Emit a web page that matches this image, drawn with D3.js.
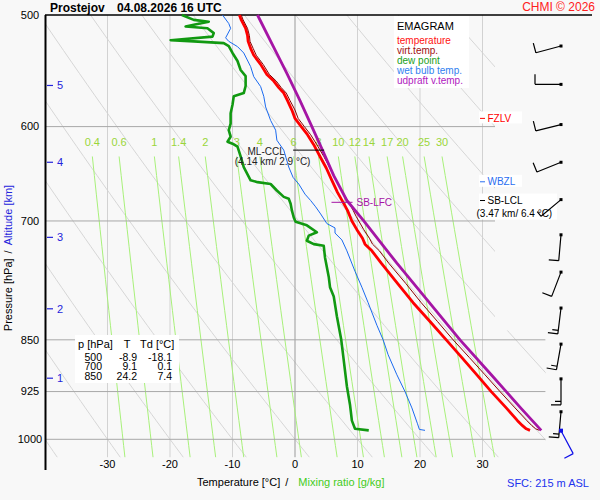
<!DOCTYPE html>
<html>
<head>
<meta charset="utf-8">
<title>Emagram Prostejov</title>
<script src="https://cdn.jsdelivr.net/npm/d3@7"></script>
<style>
  body { margin: 0; background: #f8f8f8; }
  svg { display: block; font-family: "Liberation Sans", Arial, sans-serif; }
</style>
</head>
<body>
<svg width="600" height="500"></svg>
<script>
// Emagram Prostejov 04.08.2026 16 UTC, drawn with d3

// grid
var pLevels = [500, 600, 700, 850, 925, 1000];
var tTicks = [-30, -20, -10, 0, 10, 20, 30];
var mixRatios = [0.4, 0.6, 1, 1.4, 2, 3, 4, 6, 8, 10, 12, 14, 17, 20, 25, 30];
var dryT1000 = [-40, -30, -20, -10, 0, 10, 20, 30, 40, 50, 60, 70, 80, 90, 100, 110, 120];

// altitude marks [km] and pressure [hPa]
var altKm = [1, 2, 3, 4, 5];
var altP = [905, 808, 719, 636, 561];

// profiles: [p hPa, T °C]
var temperature = [
  [500, -8.9], [504, -8.6], [511, -7.9], [517, -7.6], [522, -7.5], [528, -7.1], [534, -6.6],
  [542, -5.5], [551, -4.5], [557, -3.4], [563, -2.6], [568, -1.8], [575, -1.2], [584, -0.5],
  [592, 0.0], [600, 1.0], [608, 2.0], [618, 3.0], [630, 4.0], [642, 5.0], [655, 5.9],
  [668, 6.8], [679, 7.7], [688, 8.4], [695, 8.8], [700, 9.1], [710, 9.9], [720, 10.8],
  [727, 11.2], [735, 12.3], [750, 13.8], [775, 16.4], [800, 18.9], [825, 21.6], [850, 24.2],
  [875, 26.7], [900, 29.1], [925, 31.4], [950, 33.8], [970, 35.6], [978, 36.4], [983, 37.0],
  [985.5, 37.6]
];
var virtTemp = [
  [500, -8.6], [504, -8.3], [511, -7.6], [517, -7.3], [522, -7.2], [528, -6.7], [534, -6.2],
  [542, -5.1], [551, -4.1], [557, -3.0], [563, -2.2], [568, -1.4], [575, -0.8], [584, 0.0],
  [592, 0.5], [600, 1.5], [608, 2.5], [618, 3.5], [630, 4.6], [642, 5.6], [655, 6.6],
  [668, 7.6], [679, 8.6], [688, 9.3], [695, 9.8], [700, 10.2], [710, 11.0], [720, 11.9],
  [727, 12.4], [735, 13.5], [750, 15.0], [775, 17.7], [800, 20.2], [825, 22.8], [850, 25.3],
  [875, 27.9], [900, 30.4], [925, 32.8], [950, 35.2], [970, 37.1], [978, 37.9], [983, 38.5],
  [985.5, 39.1]
];
var dewPoint = [
  [500, -18.1], [504, -16.2], [505.5, -13.8], [508, -16.2], [509.5, -17.5], [511, -14.0],
  [515, -13.0], [518, -13.2], [521, -19.9], [522, -16.2], [523.5, -11.4], [526, -10.6],
  [532, -10.0], [539, -9.2], [547, -8.7], [552.5, -7.9], [561.5, -7.9], [568, -8.2],
  [571, -9.8], [579, -10.0], [587, -10.3], [597, -10.3], [603.5, -10.6], [610, -10.3],
  [615, -10.8], [617, -10.0], [620, -9.2], [630, -8.7], [641, -8.2], [655, -7.1],
  [657, -6.0], [659, -3.9], [666, -2.9], [673, -1.8], [675, -1.0], [680.5, -0.7],
  [688, -0.5], [696, -0.2], [701, 0.1], [705, 1.9], [713, 3.5], [717, 2.2], [723, 1.9],
  [727, 3.0], [729, 4.6], [743, 4.8], [767, 5.4], [780, 5.6], [792, 6.2], [818, 6.7],
  [850, 7.4], [879, 7.8], [917, 8.3], [945, 8.8], [970, 9.1], [983, 9.6], [985.5, 11.8]
];
var wetBulb = [
  [500, -11.6], [507, -10.6], [511, -10.3], [519, -11.1], [522, -10.6], [526.5, -9.2],
  [532, -8.2], [544, -7.1], [553, -6.6], [562, -5.5], [571, -5.0], [581, -4.7], [594, -3.9],
  [603.5, -3.1], [613.5, -2.9], [623.5, -1.8], [641, -1.0], [652, -0.3], [659, 0.6],
  [670, 1.6], [677, 2.5], [684, 3.3], [692, 4.1], [703, 5.1], [708, 6.4], [714, 6.4],
  [722, 7.5], [735, 8.3], [760, 9.6], [780, 10.7], [800, 11.7], [830, 13.1], [850, 14.1],
  [871, 14.9], [900, 16.3], [925, 17.6], [950, 18.7], [975, 19.6], [984, 19.9], [985.5, 20.8]
];
var updraft = [
  [500, -6.0], [525, -3.6], [550, -1.3], [575, 0.8], [600, 2.7], [625, 4.5], [650, 6.2],
  [677, 8.3], [700, 11.0], [750, 16.3], [800, 21.5], [850, 26.4], [900, 31.4], [925, 33.8],
  [950, 36.1], [985.5, 39.4]
];

// winds: pressure [hPa], direction [deg], speed [kt]
var windP = [526, 560, 598, 636, 676, 716, 761, 807, 856, 906, 956];
var windDir = [255, 270, 256, 248, 230, 185, 201, 187, 190, 180, 185];
var windKt = [10, 10, 10, 10, 5, 10, 10, 15, 15, 15, 15];
var sfcWind = [986, 152, 10];

// table
var tableHead = ["p [hPa]", "T", "Td [°C]"];
var tableRows = [["500", "-8.9", "-18.1"], ["700", "9.1", "0.1"], ["850", "24.2", "7.4"]];

var legendNames = ["temperature", "virt.temp.", "dew point", "wet bulb temp.", "udpraft v.temp."];
var legendColors = ["#ff1010", "#a01010", "#20a020", "#3080f0", "#b020c0"];

var svg = d3.select("svg");
var x = d3.scaleLinear().domain([-40, 40]).range([45, 545]);
var y = d3.scaleLog().domain([500, 1000]).range([15, 439.3]);
var pBottom = 1030;
var barbX = 561;

svg.append("rect").attr("width", 600).attr("height", 500).attr("fill", "#f8f8f8");

svg.append("defs").append("clipPath").attr("id", "gridclip").append("polygon")
  .attr("points", [[x(-40), y(500)], [x(32), y(500)], [x(32), y(837)], [x(40.1), y(837)],
    [x(40.1), y(pBottom)], [x(-40), y(pBottom)]].join(" "));

var grid = svg.append("g").attr("clip-path", "url(#gridclip)");

var line = d3.line().x(function(d) { return x(d[1]); }).y(function(d) { return y(d[0]); });
var pSteps = d3.range(500, pBottom + 1, 10);

// dry adiabats
grid.selectAll(".dry").data(dryT1000).enter().append("path")
  .attr("class", "dry")
  .attr("d", function(t0) {
    var th = t0 + 273.15;
    return line(pSteps.map(function(p) { return [p, th * Math.pow(p / 1000, 0.286) - 273.15]; }));
  })
  .attr("fill", "none").attr("stroke", "#d6d6d6").attr("stroke-width", 1);

// isotherms
grid.selectAll(".iso").data(tTicks).enter().append("line")
  .attr("x1", function(d) { return x(d); }).attr("x2", function(d) { return x(d); })
  .attr("y1", y(500)).attr("y2", y(pBottom))
  .attr("stroke", function(d) { return d === 0 ? "#9a9a9a" : "#d2d2d2"; })
  .attr("stroke-width", 1);

// mixing ratio lines
function satT(w, p) {
  var e = w * p / (622 + w);
  var l = Math.log(e / 6.112);
  return 243.5 * l / (17.67 - l);
}
var mixP = d3.range(630, pBottom + 1, 20);
grid.selectAll(".mix").data(mixRatios).enter().append("path")
  .attr("d", function(w) { return line(mixP.map(function(p) { return [p, satT(w, p)]; })); })
  .attr("fill", "none").attr("stroke", "#a8f07a").attr("stroke-width", 1);

svg.selectAll(".mixlab").data(mixRatios).enter().append("text")
  .attr("x", function(w) { return x(satT(w, 630)); })
  .attr("y", y(630) - 10)
  .attr("text-anchor", "middle")
  .style("font-size", "11px").attr("fill", "#9ad63a")
  .text(function(w) { return w; });

// pressure lines
grid.selectAll(".plev").data(pLevels.slice(1)).enter().append("line")
  .attr("x1", x(-40)).attr("x2", x(40.1))
  .attr("y1", function(d) { return y(d); }).attr("y2", function(d) { return y(d); })
  .attr("stroke", "#a8a8a8").attr("stroke-width", 1);

// frame
svg.append("line").attr("x1", x(-40)).attr("x2", 592).attr("y1", y(500)).attr("y2", y(500))
  .attr("stroke", "#000").attr("stroke-width", 1.5);
svg.append("line").attr("x1", x(-40) + 0.5).attr("x2", x(-40) + 0.5).attr("y1", y(500)).attr("y2", 470)
  .attr("stroke", "#000").attr("stroke-width", 2);

// pressure labels
svg.selectAll(".plab").data(pLevels).enter().append("text")
  .attr("x", 30).attr("y", function(d) { return y(d); }).attr("dy", "0.35em")
  .attr("text-anchor", "middle").style("font-size", "11px").attr("fill", "#000")
  .text(function(d) { return d; });

// temperature labels
svg.selectAll(".tlab").data(tTicks).enter().append("text")
  .attr("x", function(d) { return x(d); }).attr("y", 468)
  .attr("text-anchor", "middle").style("font-size", "11px").attr("fill", "#000")
  .text(function(d) { return d; });

// altitude marks
var alt = svg.append("g");
altP.forEach(function(p, i) {
  alt.append("line").attr("x1", 47).attr("x2", 53).attr("y1", y(p)).attr("y2", y(p))
    .attr("stroke", "#2424dc").attr("stroke-width", 1.2);
  alt.append("text").attr("x", 57).attr("y", y(p)).attr("dy", "0.35em")
    .style("font-size", "11px").attr("fill", "#2424dc").text(altKm[i]);
});

// axis titles
var yt = svg.append("text").attr("transform", "translate(12,258) rotate(-90)")
  .attr("text-anchor", "middle").style("font-size", "11px");
yt.append("tspan").attr("fill", "#000").text("Pressure [hPa]");
yt.append("tspan").attr("fill", "#000").attr("dx", 5).text("/");
yt.append("tspan").attr("fill", "#2424dc").attr("dx", 5).text("Altitude [km]");

var xt = svg.append("text").attr("x", 197).attr("y", 486).style("font-size", "11px");
xt.append("tspan").attr("fill", "#000").text("Temperature [°C]");
xt.append("tspan").attr("fill", "#000").attr("dx", 5).text("/");
xt.append("tspan").attr("fill", "#44cc22").attr("dx", 10).text("Mixing ratio [g/kg]");

svg.append("text").attr("x", 589).attr("y", 487).attr("text-anchor", "end")
  .style("font-size", "11px").attr("fill", "#2233ee").text("SFC: 215 m ASL");

// title
svg.append("text").attr("x", 50).attr("y", 12).style("font-size", "12px").style("font-weight", "bold")
  .text("Prostejov");
svg.append("text").attr("x", 117).attr("y", 12).style("font-size", "12px").style("font-weight", "bold")
  .text("04.08.2026 16 UTC");
svg.append("text").attr("x", 595).attr("y", 11).attr("text-anchor", "end")
  .style("font-size", "12px").attr("fill", "#ff2020").text("CHMI © 2026");

// legend
var leg = svg.append("g");
leg.append("rect").attr("x", 394).attr("y", 16).attr("width", 75).attr("height", 72).attr("fill", "#fff");
leg.append("text").attr("x", 397).attr("y", 30).style("font-size", "11px").text("EMAGRAM");
legendNames.forEach(function(n, i) {
  leg.append("text").attr("x", 397).attr("y", 44 + i * 10).style("font-size", "10px")
    .attr("fill", legendColors[i]).text(n);
});

// table
var tab = svg.append("g");
tab.append("rect").attr("x", 75).attr("y", 335).attr("width", 104).attr("height", 48).attr("fill", "#fff");
tab.append("text").attr("x", 78).attr("y", 348).style("font-size", "11px").text(tableHead[0]);
tab.append("text").attr("x", 127).attr("y", 348).style("font-size", "11px")
  .attr("text-anchor", "middle").text(tableHead[1]);
tab.append("text").attr("x", 140).attr("y", 348).style("font-size", "11px").text(tableHead[2]);
var colX = [102, 137, 172];
tableRows.forEach(function(r, i) {
  r.forEach(function(v, j) {
    tab.append("text").attr("x", colX[j]).attr("y", 360.5 + i * 9.7)
      .attr("text-anchor", "end").style("font-size", "10.5px").text(v);
  });
});

// profiles
var profiles = [
  [dewPoint, "#119911", 2.6],
  [wetBulb, "#1a6af0", 1],
  [temperature, "#ff0000", 2.8],
  [virtTemp, "#8b0000", 1],
  [updraft, "#a515a5", 2.8]
];
profiles.forEach(function(pr) {
  svg.append("path").datum(pr[0]).attr("d", line)
    .attr("fill", "none").attr("stroke", pr[1]).attr("stroke-width", pr[2])
    .attr("stroke-linejoin", "round");
});

// level labels on the right
function levelLabel(p, name, color, sub) {
  var yy = y(p), x0 = x(29.6);
  svg.append("rect").attr("x", x0 - 1).attr("y", yy - 7)
    .attr("width", sub ? 78 : 43).attr("height", sub ? 26 : 12).attr("fill", "#fff");
  svg.append("line").attr("x1", x0).attr("x2", x0 + 5).attr("y1", yy).attr("y2", yy)
    .attr("stroke", color).attr("stroke-width", 1);
  svg.append("text").attr("x", x0 + 7.5).attr("y", yy + 3.6).style("font-size", "10px")
    .attr("fill", color).text(name);
  if (sub) {
    svg.append("text").attr("x", x0 - 3.5).attr("y", yy + 16.3).style("font-size", "10px")
      .attr("fill", color).text(sub);
  }
}
levelLabel(592, "FZLV", "#ff0000");
levelLabel(656.6, "WBZL", "#2a6ef0");
levelLabel(677, "SB-LCL", "#000", "(3.47 km/ 6.4 °C)");

// ML-CCL
var ccl = [623.5, 2.9];
svg.append("line").attr("x1", x(ccl[1]) - 20).attr("x2", x(ccl[1]) + 11)
  .attr("y1", y(ccl[0])).attr("y2", y(ccl[0])).attr("stroke", "#000").attr("stroke-width", 1);
svg.append("text").attr("x", x(ccl[1]) - 47).attr("y", y(ccl[0]) + 5).attr("text-anchor", "middle")
  .style("font-size", "10px").attr("fill", "#222").text("ML-CCL");
svg.append("text").attr("x", x(ccl[1]) - 40.5).attr("y", y(ccl[0]) + 15).attr("text-anchor", "middle")
  .style("font-size", "10px").attr("fill", "#222").text("(4.14 km/ 2.9 °C)");

// SB-LFC
var lfc = [679, 7.6];
svg.append("line").attr("x1", x(lfc[1]) - 11).attr("x2", x(lfc[1]) + 10)
  .attr("y1", y(lfc[0])).attr("y2", y(lfc[0])).attr("stroke", "#a515a5").attr("stroke-width", 1);
svg.append("text").attr("x", x(lfc[1]) + 14).attr("y", y(lfc[0]) + 4)
  .style("font-size", "10px").attr("fill", "#a515a5").text("SB-LFC");

// wind barbs
function drawBarb(p, dir, kt, color, dot) {
  var len = 26, a = dir * Math.PI / 180;
  var ux = Math.sin(a), uy = -Math.cos(a);
  var nx = -uy, ny = ux;
  var x0 = barbX, y0 = y(p);
  var path = d3.path();
  path.moveTo(x0, y0);
  path.lineTo(x0 + len * ux, y0 + len * uy);
  var rest = kt, pos = len, bx, by;
  while (rest >= 10) {
    bx = x0 + pos * ux; by = y0 + pos * uy;
    path.moveTo(bx, by);
    path.lineTo(bx + 10 * nx, by + 10 * ny);
    rest -= 10; pos -= 3.5;
  }
  if (rest >= 5) {
    bx = x0 + pos * ux; by = y0 + pos * uy;
    path.moveTo(bx, by);
    path.lineTo(bx + 6 * nx, by + 6 * ny);
  }
  svg.append("path").attr("d", path.toString()).attr("fill", "none")
    .attr("stroke", color).attr("stroke-width", 1.2);
  svg.append("rect").attr("x", x0 - dot / 2).attr("y", y0 - dot / 2)
    .attr("width", dot).attr("height", dot).attr("fill", color);
}
windP.forEach(function(p, i) { drawBarb(p, windDir[i], windKt[i], "#000", 3); });
drawBarb(sfcWind[0], sfcWind[1], sfcWind[2], "#1010e8", 4);
</script>
</body>
</html>
